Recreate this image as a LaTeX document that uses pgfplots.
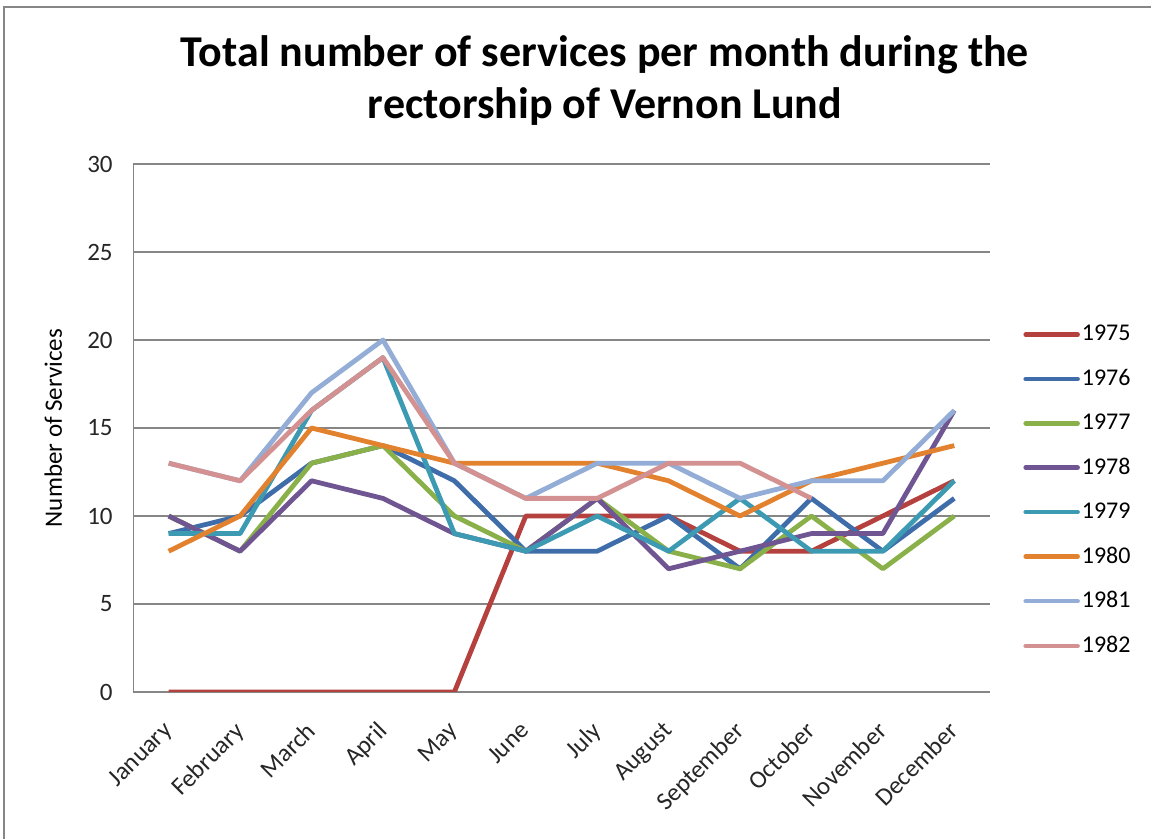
\documentclass[border=0pt]{standalone}
\usepackage{fontspec}
\setmainfont{Carlito}
\usepackage{pgfplots}
\pgfplotsset{compat=1.18}

\definecolor{c75}{HTML}{B5413E}
\definecolor{c76}{HTML}{3F6DAA}
\definecolor{c77}{HTML}{8AB04A}
\definecolor{c78}{HTML}{6F5592}
\definecolor{c79}{HTML}{3C9AB3}
\definecolor{c80}{HTML}{E2822F}
\definecolor{c81}{HTML}{93ADD6}
\definecolor{c82}{HTML}{D39291}
\definecolor{gridgray}{HTML}{868686}

\begin{document}
\begin{tikzpicture}
\begin{axis}[
  name=ax,
  scale only axis,
  width=428.5pt, height=264pt,
  xmin=-0.5, xmax=11.5,
  ymin=0, ymax=30,
  ytick={0,5,...,30},
  xtick={0,...,11},
  xticklabels={January,February,March,April,May,June,July,August,September,October,November,December},
  axis lines=left,
  axis line style={-, gridgray},
  major tick length=0pt,
  ymajorgrids,
  grid style={gridgray, line width=0.6pt},
  tick label style={font=\fontsize{12.5}{14}\selectfont, text=black!85},
  /pgf/number format/assume math mode=true,
  yticklabel style={inner sep=0pt, xshift=-10pt},
  xticklabel style={inner sep=0pt, anchor=north east, xshift=-3.5pt, yshift=-14pt, rotate=45},
  ylabel={Number of Services},
  ylabel style={at={(axis description cs:-0.093,0.5)}, anchor=center, font=\fontsize{12.5}{14}\selectfont},
  every axis plot/.append style={line width=2.4pt, line join=round},
  legend style={draw=none, fill=none, at={(axis description cs:1,1)}, anchor=north west,
    xshift=16.5pt, yshift=-80.5pt, row sep=12.7pt, inner sep=0pt,
    font=\fontsize{12}{14}\selectfont, nodes={inner xsep=1pt, inner ysep=0pt}},
  legend cell align=left,
  legend image code/.code={\draw[#1, line width=2.25pt, line cap=round] (0pt,0pt) -- (26pt,0pt);},
]
\addplot[c75] coordinates {(0,0) (1,0) (2,0) (3,0) (4,0) (5,10) (6,10) (7,10) (8,8) (9,8) (10,10) (11,12)};
\addlegendentry{1975}
\addplot[c76] coordinates {(0,9) (1,10) (2,13) (3,14) (4,12) (5,8) (6,8) (7,10) (8,7) (9,11) (10,8) (11,11)};
\addlegendentry{1976}
\addplot[c77] coordinates {(0,10) (1,8) (2,13) (3,14) (4,10) (5,8) (6,11) (7,8) (8,7) (9,10) (10,7) (11,10)};
\addlegendentry{1977}
\addplot[c78] coordinates {(0,10) (1,8) (2,12) (3,11) (4,9) (5,8) (6,11) (7,7) (8,8) (9,9) (10,9) (11,16)};
\addlegendentry{1978}
\addplot[c79] coordinates {(0,9) (1,9) (2,16) (3,19) (4,9) (5,8) (6,10) (7,8) (8,11) (9,8) (10,8) (11,12)};
\addlegendentry{1979}
\addplot[c80] coordinates {(0,8) (1,10) (2,15) (3,14) (4,13) (5,13) (6,13) (7,12) (8,10) (9,12) (10,13) (11,14)};
\addlegendentry{1980}
\addplot[c81] coordinates {(0,13) (1,12) (2,17) (3,20) (4,13) (5,11) (6,13) (7,13) (8,11) (9,12) (10,12) (11,16)};
\addlegendentry{1981}
\addplot[c82] coordinates {(0,13) (1,12) (2,16) (3,19) (4,13) (5,11) (6,11) (7,13) (8,13) (9,11)};
\addlegendentry{1982}
\end{axis}
\node[anchor=base, font=\fontsize{22}{26}\selectfont\bfseries] at ([shift={(236pt,48.5pt)}]ax.north west) {Total number of services per month during the};
\node[anchor=base, font=\fontsize{22}{26}\selectfont\bfseries] at ([shift={(236pt,22.5pt)}]ax.north west) {rectorship of Vernon Lund};
\pgfresetboundingbox
\useasboundingbox ([shift={(-66.5pt,-73.5pt)}]ax.south west) rectangle ([shift={(80.5pt,82pt)}]ax.north east);
\draw[gridgray, line width=1pt] ([shift={(-64.5pt,-73.5pt)}]ax.south west) -- ([shift={(-64.5pt,78.5pt)}]ax.north west) -- ([shift={(80.5pt,78.5pt)}]ax.north east);
\end{tikzpicture}
\end{document}
